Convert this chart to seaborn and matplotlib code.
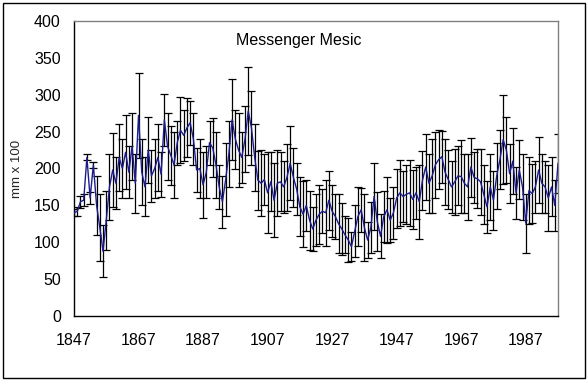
import numpy as np
import pandas as pd
import matplotlib
matplotlib.use("Agg")
import matplotlib.pyplot as plt
import seaborn as sns
from matplotlib.patches import Rectangle

years = list(range(1847, 1998))
values = [
    140, 142, 155, 157, 215, 160, 205, 150, 120, 88,
    130, 175, 198, 180, 215, 200, 222, 195, 230, 180,
    272, 195, 175, 225, 190, 200, 215, 192, 266, 230,
    218, 205, 235, 252, 245, 255, 262, 240, 198, 200,
    178, 195, 235, 228, 205, 175, 155, 185, 220, 266,
    240, 225, 215, 240, 278, 255, 215, 184, 180, 185,
    167, 182, 157, 180, 182, 175, 188, 207, 188, 172,
    148, 138, 150, 130, 118, 130, 138, 142, 140, 157,
    142, 135, 125, 118, 110, 103, 94, 115, 135, 144,
    120, 103, 120, 162, 128, 108, 135, 144, 130, 140,
    160, 167, 162, 165, 167, 158, 167, 155, 184, 202,
    180, 190, 205, 212, 216, 195, 185, 175, 182, 190,
    189, 180, 175, 202, 188, 186, 182, 165, 148, 175,
    157, 190, 212, 239, 225, 193, 210, 167, 198, 175,
    126, 170, 166, 175, 198, 180, 175, 160, 175, 150,
    207,
]
errors = [
    5, 6, 8, 8, 4, 8, 4, 40, 45, 35,
    40, 45, 50, 35, 45, 40, 50, 35, 45, 40,
    58, 45, 40, 45, 35, 40, 45, 30, 35, 45,
    40, 45, 30, 45, 35, 40, 30, 35, 30, 40,
    45, 35, 30, 40, 45, 30, 35, 50, 45, 55,
    40, 50, 35, 45, 60, 50, 45, 40, 45, 35,
    55, 40, 50, 45, 40, 35, 45, 50, 40, 35,
    40, 45, 35, 40, 30, 35, 40, 30, 45, 40,
    35, 30, 40, 35, 25, 30, 20, 35, 40, 30,
    45, 25, 35, 45, 40, 30, 35, 45, 30, 35,
    40, 45, 35, 40, 45, 40, 35, 50, 40, 45,
    40, 50, 45, 40, 35, 45, 40, 35, 45, 40,
    50, 40, 45, 40, 35, 40, 45, 40, 35, 45,
    40, 45, 40, 60, 45, 40, 45, 35, 40, 45,
    40, 45, 40, 35, 45, 40, 35, 45, 40, 35,
    40,
]
x_labels = ["1847", "1867", "1887", "1907", "1927", "1947", "1967", "1987"]
y_ticks = [0, 50, 100, 150, 200, 250, 300, 350, 400]
title = "Messenger Mesic"
ylabel = "mm x 100"

df = pd.DataFrame({"year": years, "value": values, "err": errors})

sns.set_style("white")
plt.rcParams["font.family"] = ["Liberation Sans", "DejaVu Sans"]

fig = plt.figure(figsize=(5.88, 3.81), dpi=100)
ax = fig.add_axes([74 / 588, 1 - 316 / 381, (558 - 74) / 588, (316 - 21) / 381])

ax.errorbar(df["year"], df["value"], yerr=df["err"], fmt="none",
            ecolor="black", elinewidth=0.9, capsize=3.2, capthick=0.9, zorder=2)
sns.lineplot(data=df, x="year", y="value", ax=ax, color="#1c1c8a",
             linewidth=1.0, zorder=3)

ax.set_xlim(1847, 1997)
ax.set_ylim(0, 400)
ax.set_yticks(y_ticks)
ax.set_yticklabels([str(v) for v in y_ticks])
label_years = [int(s) for s in x_labels]
ax.set_xticks(label_years)
ax.set_xticklabels(x_labels)
ax.set_xticks(list(range(1847, 1998, 5)), minor=True)
ax.tick_params(axis="both", which="both", direction="inout", length=7,
               width=0.8, color="black", labelsize=11.5, labelcolor="black")
ax.tick_params(axis="x", which="major", pad=9)
ax.tick_params(axis="y", which="major", pad=6)
ax.set_xlabel("")
ax.set_ylabel(ylabel, fontsize=9.5)
ax.yaxis.set_label_coords(-0.105, 0.5)

for side in ["left", "bottom"]:
    ax.spines[side].set_color("black")
    ax.spines[side].set_linewidth(1.0)
for side in ["top", "right"]:
    ax.spines[side].set_color("#808080")
    ax.spines[side].set_linewidth(1.0)
    ax.spines[side].set_visible(True)

ax.text(0.465, 0.935, title, transform=ax.transAxes, ha="center", va="center",
        fontsize=11.5, color="black")

fig.patches.append(Rectangle((3 / 588, 3 / 381), 582 / 588, 375 / 381,
                             transform=fig.transFigure, fill=False,
                             edgecolor="black", linewidth=1.0))

fig.savefig("out.png", dpi=100)
